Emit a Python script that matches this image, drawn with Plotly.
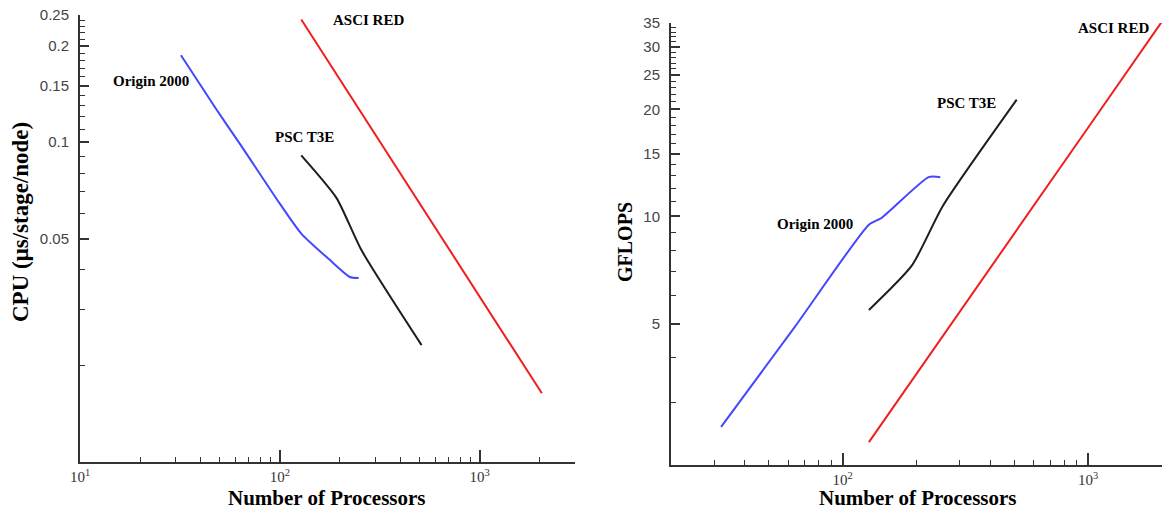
import plotly.graph_objects as go
import numpy as np

# ---------------- data ----------------
# Left panel: CPU time (microseconds / stage / node) vs number of processors
cpu_origin_n = [32, 48, 64, 96, 128, 176, 224, 248]
cpu_origin = [0.187, 0.127, 0.0976, 0.0667, 0.0518, 0.0431, 0.0379, 0.0376]
cpu_t3e_n = [128, 192, 256, 512]
cpu_t3e = [0.091, 0.067, 0.046, 0.0232]
cpu_red_n = [128, 256, 512, 1024, 2048]
cpu_red = [0.242, 0.1234, 0.0630, 0.0321, 0.0164]

# Right panel: GFLOPS vs number of processors
gf_origin_n = [32, 64, 128, 144, 224, 250]
gf_origin = [2.56, 4.9, 9.48, 9.9, 12.9, 12.9]
gf_t3e_n = [128, 192, 256, 512]
gf_t3e = [5.46, 7.3, 10.7, 21.3]
gf_red_n = [128, 256, 512, 1024, 2048]
gf_red = [2.32, 4.6, 9.15, 18.2, 36.2]

series_names = ["Origin 2000", "PSC T3E", "ASCI RED"]

# tick labels
x_major_left = [10, 100, 1000]
x_major_right = [100, 1000]
x_major_text = {10: "10<sup>1</sup>", 100: "10<sup>2</sup>", 1000: "10<sup>3</sup>"}
x_minor_left = [20, 30, 40, 50, 60, 70, 80, 90, 200, 300, 400, 500, 600, 700, 800, 900, 2000, 3000]
x_minor_right = [30, 40, 50, 60, 70, 80, 90, 200, 300, 400, 500, 600, 700, 800, 900, 2000]
cpu_major = [0.05, 0.1, 0.15, 0.2, 0.25]
cpu_major_text = ["0.05", "0.1", "0.15", "0.2", "0.25"]
cpu_minor = [0.02, 0.03, 0.04, 0.06, 0.07, 0.08, 0.09,
             0.11, 0.12, 0.13, 0.14, 0.16, 0.17, 0.18, 0.19,
             0.21, 0.22, 0.23, 0.24]
gf_major = [5, 10, 15, 20, 25, 30, 35]
gf_major_text = ["5", "10", "15", "20", "25", "30", "35"]
gf_minor = [3, 4, 6, 7, 8, 9] + [v for v in range(11, 35) if v % 5 != 0]

# ---------------- styling ----------------
W, H = 1165, 512
BLUE = "rgb(70,70,255)"
BLACK = "rgb(30,30,30)"
RED = "rgb(240,30,30)"
AX = "#333333"
SERIF = "Liberation Serif"
SANS = "Liberation Sans"

def px(x):
    return x / W

def py(y):
    return 1 - y / H

fig = go.Figure()

def add(xs, ys, color, xa, ya, shape="spline"):
    fig.add_trace(go.Scatter(x=xs, y=ys, mode="lines",
                             line=dict(color=color, width=2, shape=shape, smoothing=0.6),
                             xaxis=xa, yaxis=ya, showlegend=False))

add(cpu_origin_n, cpu_origin, BLUE, "x", "y")
add(cpu_t3e_n, cpu_t3e, BLACK, "x", "y")
add(cpu_red_n, cpu_red, RED, "x", "y", "linear")
add(gf_origin_n, gf_origin, BLUE, "x2", "y2")
add(gf_t3e_n, gf_t3e, BLACK, "x2", "y2")
add(gf_red_n, gf_red, RED, "x2", "y2", "linear")

def xaxis(domain, rng, major, minor, anchor):
    return dict(type="log", domain=domain, range=rng, anchor=anchor, automargin=False,
                showline=True, linecolor=AX, linewidth=2, showgrid=False, zeroline=False,
                tickmode="array", tickvals=major, ticktext=[x_major_text[v] for v in major],
                ticks="inside", ticklen=12, tickwidth=2, tickcolor=AX,
                ticklabelstandoff=0,
                tickfont=dict(family=SERIF, size=15, color="#333"),
                minor=dict(tickmode="array", tickvals=minor, ticks="inside",
                           ticklen=5, tickwidth=1, tickcolor=AX, showgrid=False))

def yaxis(domain, rng, major, major_text, minor, anchor):
    return dict(type="log", domain=domain, range=rng, anchor=anchor, automargin=False,
                showline=True, linecolor=AX, linewidth=2, showgrid=False, zeroline=False,
                tickmode="array", tickvals=major, ticktext=major_text,
                ticks="inside", ticklen=9, tickwidth=2, tickcolor=AX,
                ticklabelstandoff=6,
                tickfont=dict(family=SANS, size=15, color="#444"),
                minor=dict(tickmode="array", tickvals=minor, ticks="inside",
                           ticklen=5, tickwidth=1, tickcolor=AX, showgrid=False))

fig.update_layout(
    width=W, height=H,
    margin=dict(l=0, r=0, t=0, b=0, autoexpand=False),
    paper_bgcolor="white", plot_bgcolor="white",
    xaxis=xaxis([px(80), px(575)], [1, np.log10(3000)], x_major_left, x_minor_left, "y"),
    yaxis=yaxis([py(462), py(15)], [np.log10(0.01), np.log10(0.25)],
                cpu_major, cpu_major_text, cpu_minor, "x"),
    xaxis2=xaxis([px(671), px(1162)], [np.log10(20), np.log10(2000)], x_major_right, x_minor_right, "y2"),
    yaxis2=yaxis([py(465), py(23)], [np.log10(2), np.log10(35)],
                 gf_major, gf_major_text, gf_minor, "x2"),
)

lab_font = dict(family=SERIF, size=15, color="black")
labels = [
    (series_names[0], 151, 81), (series_names[1], 304, 137), (series_names[2], 368, 20),
    (series_names[0], 815, 224), (series_names[1], 966, 103), (series_names[2], 1113, 28),
]
for t, x, y in labels:
    fig.add_annotation(text="<b>%s</b>" % t, x=px(x), y=py(y), xref="paper", yref="paper",
                       showarrow=False, font=lab_font, xanchor="center", yanchor="middle")

title_font = dict(family=SERIF, size=21, color="black")
fig.add_annotation(text="<b>Number of Processors</b>", x=px(327), y=py(498), xref="paper", yref="paper",
                   showarrow=False, font=title_font, xanchor="center", yanchor="middle")
fig.add_annotation(text="<b>Number of Processors</b>", x=px(918), y=py(498), xref="paper", yref="paper",
                   showarrow=False, font=title_font, xanchor="center", yanchor="middle")
fig.add_annotation(text="<b>CPU (μs/stage/node)</b>", x=px(20), y=py(222), xref="paper", yref="paper",
                   showarrow=False, font=dict(family=SERIF, size=23, color="black"),
                   textangle=-90, xanchor="center", yanchor="middle")
fig.add_annotation(text="<b>GFLOPS</b>", x=px(625), y=py(242), xref="paper", yref="paper",
                   showarrow=False, font=dict(family=SERIF, size=20, color="black"),
                   textangle=-90, xanchor="center", yanchor="middle")

fig.write_html("out.html", config={"displayModeBar": False},
               post_script="document.body.style.margin='0';document.body.style.overflow='hidden';")
